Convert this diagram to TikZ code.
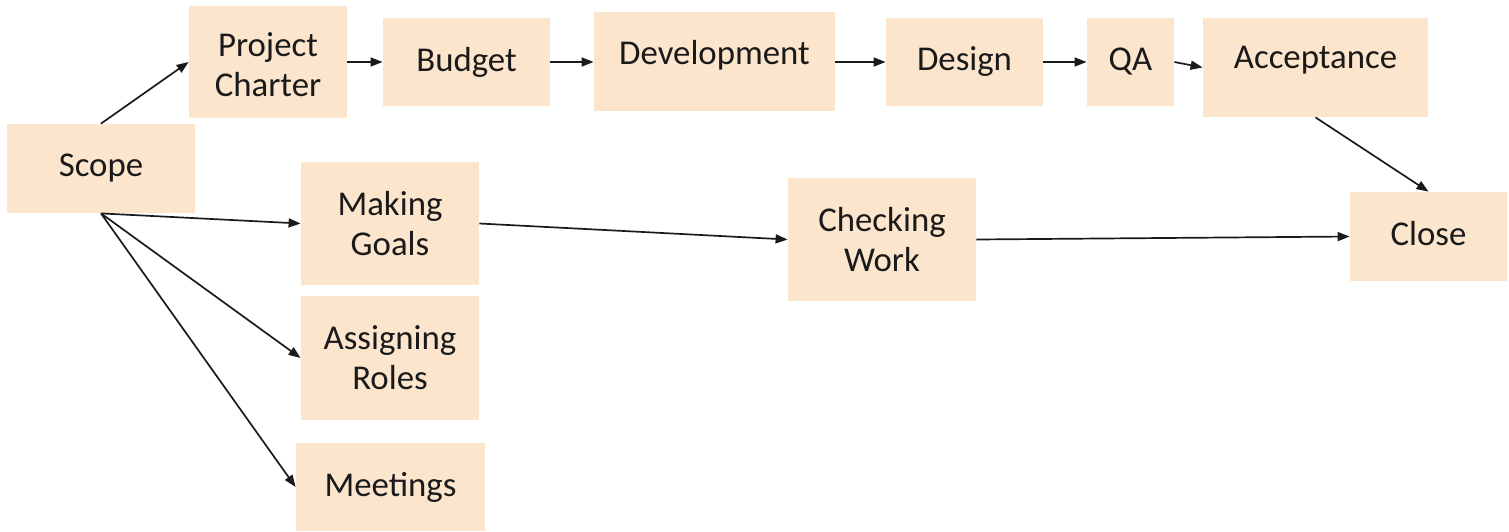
\documentclass[tikz,border=0pt]{standalone}
\usepackage{fontspec}
\setmainfont{Carlito}
\usetikzlibrary{arrows.meta}
\definecolor{peach}{HTML}{FCE5CD}
\definecolor{ink}{HTML}{1A1A1A}
\begin{document}
\begin{tikzpicture}[x=0.5pt,y=-0.5pt,
  box/.style={fill=peach, draw=none, inner sep=0pt, align=center, text=ink,
              font=\fontsize{17.4pt}{20pt}\selectfont},
  conn/.style={draw=ink, line width=0.85pt, -{Triangle[length=6pt,width=4.5pt]}}]
\useasboundingbox (0,0) rectangle (1509,531);
\node[box, minimum width=94pt, minimum height=44.5pt] (scope) at (101,168.5) {Scope};
\node[box, minimum width=79pt, minimum height=56pt] (charter) at (268,62) {\raisebox{-1.5pt}[\height][\depth]{Project}\\\raisebox{-1.5pt}[\height][\depth]{Charter}};
\node[box, minimum width=83.5pt, minimum height=44pt] (budget) at (466.5,62) {Budget};
\node[box, minimum width=120.5pt, minimum height=49.5pt] (dev) at (714.5,61.5) {\raisebox{3pt}[\height][\depth]{Development}};
\node[box, minimum width=78.5pt, minimum height=44pt] (design) at (964.5,62) {Design};
\node[box, minimum width=43.5pt, minimum height=44pt] (qa) at (1130.5,62) {QA};
\node[box, minimum width=112.5pt, minimum height=49.5pt] (accept) at (1315.5,67.5) {\raisebox{3.5pt}[\height][\depth]{Acceptance}};
\node[box, minimum width=78.5pt, minimum height=44.5pt] (close) at (1428.5,236.5) {\raisebox{1.5pt}[\height][\depth]{Close}};
\node[box, minimum width=89pt, minimum height=61.5pt] (goals) at (390,223.5) {Making\\Goals};
\node[box, minimum width=89pt, minimum height=62pt] (roles) at (390,358) {Assigning\\Roles};
\node[box, minimum width=94.5pt, minimum height=44pt] (meet) at (390.5,487) {Meetings};
\node[box, minimum width=94pt, minimum height=61.5pt] (check) at (882,239.5) {Checking\\Work};
\draw[conn] (scope.north) -- (charter.west);
\draw[conn] (charter.east) -- (budget.west);
\draw[conn] (budget.east) -- (dev.west |- budget.east);
\draw[conn] (dev.east |- design.west) -- (design.west);
\draw[conn] (design.east) -- (qa.west);
\draw[conn] (qa.east) -- (accept.west);
\draw[conn] (accept.south) -- (close.north);
\draw[conn] (scope.south) -- (goals.west);
\draw[conn] (scope.south) -- (roles.west);
\draw[conn] (scope.south) -- (meet.west);
\draw[conn] (goals.east) -- (check.west);
\draw[conn] (check.east) -- (close.west);
\end{tikzpicture}
\end{document}
